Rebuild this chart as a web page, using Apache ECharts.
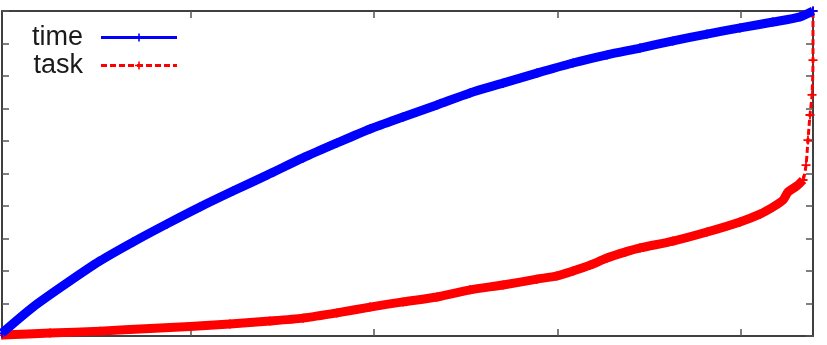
<!DOCTYPE html>
<html>
<head>
<meta charset="utf-8">
<script src="https://cdn.jsdelivr.net/npm/echarts@6/dist/echarts.min.js"></script>
<style>
html,body{margin:0;padding:0;background:#fff;}
#c{width:827px;height:345px;}
</style>
</head>
<body>
<div id="c"></div>
<script>
// x: position along the run in percent (0..100), y: cumulative fraction (0..1)
const timeX = [0, 3.82, 8.01, 12.08, 16.15, 20.35, 24.41, 28.48, 32.68, 37.11, 41.31, 45.38, 49.45, 53.64, 57.71, 61.78, 65.97, 70.41, 74.60, 78.67, 82.74, 86.93, 91.00, 95.07, 98.40, 100];
const timeY = [0.009, 0.089, 0.163, 0.231, 0.289, 0.345, 0.397, 0.446, 0.495, 0.548, 0.594, 0.637, 0.674, 0.711, 0.748, 0.778, 0.809, 0.840, 0.865, 0.886, 0.908, 0.929, 0.948, 0.966, 0.982, 1.000];

const taskX = [0, 5.92, 12.08, 18.25, 23.18, 28.11, 33.05, 37.11, 41.31, 45.38, 49.45, 53.64, 57.71, 61.78, 65.97, 68.43, 70.41, 72.50, 74.60, 76.82, 78.67, 82.74, 86.93, 91.00, 93.46, 95.07, 96.30, 96.92, 98.03, 98.77, 99.14, 99.38, 99.63, 99.88, 100, 100];
const taskY = [0.003, 0.009, 0.015, 0.023, 0.029, 0.037, 0.046, 0.055, 0.071, 0.089, 0.105, 0.120, 0.142, 0.157, 0.175, 0.185, 0.200, 0.218, 0.240, 0.258, 0.271, 0.292, 0.320, 0.351, 0.375, 0.397, 0.418, 0.443, 0.462, 0.480, 0.526, 0.603, 0.680, 0.742, 0.849, 1.000];
const taskDenseCount = 30; // points drawn as a dense (solid) band

const xTicks = [23.27, 45.87, 68.47, 91.07];

const pairs = (xs, ys) => xs.map((x, i) => [x, ys[i]]);
const plus = 'path://M4,0h2v10h-2z M0,4h10v2h-10z';

const frameColor = '#404040';
const tickStyle = {show: true, inside: true, length: 7, lineStyle: {color: '#555', width: 1.5}};

function xAx(pos) {
  return {
    type: 'value', position: pos, min: 0, max: 100,
    axisLine: {show: true, onZero: false, lineStyle: {color: frameColor, width: 2}},
    axisTick: Object.assign({}, tickStyle, {customValues: xTicks}),
    axisLabel: {show: false}, splitLine: {show: false}
  };
}
function yAx(pos) {
  return {
    type: 'value', position: pos, min: 0, max: 1, interval: 0.1,
    axisLine: {show: true, onZero: false, lineStyle: {color: frameColor, width: 2}},
    axisTick: tickStyle,
    axisLabel: {show: false}, splitLine: {show: false}
  };
}

const chart = echarts.init(document.getElementById('c'));
chart.setOption({
  animation: false,
  backgroundColor: '#fff',
  grid: {left: 2, right: 14, top: 11, bottom: 9, containLabel: false},
  xAxis: [xAx('bottom'), xAx('top')],
  yAxis: [yAx('left'), yAx('right')],
  legend: {
    orient: 'vertical', left: 27, top: 19, align: 'right',
    itemWidth: 76, itemHeight: 10, itemGap: 1,
    lineStyle: {width: 3},
    textStyle: {fontFamily: 'Liberation Sans', fontSize: 27, lineHeight: 27, color: '#1a1a1a', padding: [0, 13, 0, 0]},
    data: ['time', 'task']
  },
  series: [
    {
      name: 'taskband', type: 'line', xAxisIndex: 0, yAxisIndex: 0,
      data: pairs(taskX.slice(0, taskDenseCount), taskY.slice(0, taskDenseCount)),
      showSymbol: false, smooth: 0.25,
      lineStyle: {color: '#ff0000', width: 9, join: 'round'}, itemStyle: {color: '#ff0000'},
      z: 2
    },
    {
      name: 'task', type: 'line', xAxisIndex: 0, yAxisIndex: 0,
      data: pairs(taskX, taskY),
      symbol: plus, symbolSize: 9, showSymbol: true, showAllSymbol: true,
      smooth: 0.25,
      lineStyle: {color: '#ff0000', width: 3, type: [6, 3]}, itemStyle: {color: '#ff0000'},
      z: 3
    },
    {
      name: 'time', type: 'line', xAxisIndex: 0, yAxisIndex: 0,
      data: pairs(timeX, timeY),
      symbol: plus, symbolSize: 9, showSymbol: true, showAllSymbol: true,
      smooth: 0.25,
      lineStyle: {color: '#0000ff', width: 9, join: 'round'}, itemStyle: {color: '#0000ff'},
      z: 4
    }
  ]
});
</script>
</body>
</html>
